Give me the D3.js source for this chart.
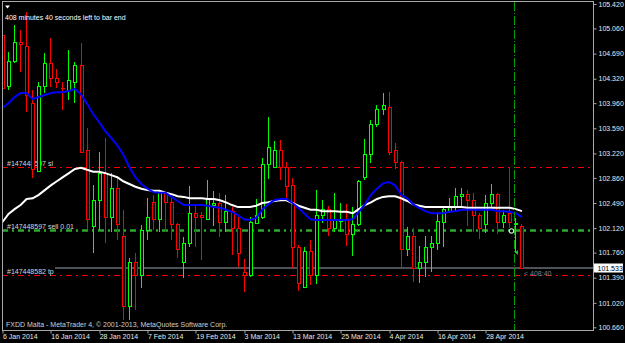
<!DOCTYPE html>
<html>
<head>
<meta charset="utf-8">
<script src="https://cdn.jsdelivr.net/npm/d3@7"></script>
<style>
  html, body { margin: 0; padding: 0; background: #000; }
  svg { display: block; }
  text { font-family: "Liberation Sans", Arial, sans-serif; font-size: 7px; }
</style>
</head>
<body>
<svg id="chart" width="625" height="343"></svg>
<script>
// daily bars, 6 Jan 2014 .. 6 May 2014 (bar index 0..86)
const opens = [
  104.96, 104.20, 104.57, 104.85, 104.80, 103.96, 102.96, 104.20, 104.55, 104.33,
  104.18, 104.15, 104.27, 104.51, 103.26, 102.14, 102.53, 102.93, 102.28, 102.71,
  101.99, 100.96, 101.62, 101.43, 102.09, 102.50, 102.24, 102.64, 102.50, 102.17,
  101.62, 101.90, 102.34, 102.30, 102.25, 102.46, 102.49, 102.21, 102.36, 102.12,
  101.47, 101.43, 102.19, 102.28, 103.05, 103.02, 103.26, 103.02, 102.75, 101.83,
  101.25, 101.77, 101.43, 102.31, 102.39, 102.12, 102.22, 102.24, 102.02, 102.17,
  102.86, 103.21, 103.64, 103.87, 103.90, 103.26, 103.08, 101.81, 101.99, 101.53,
  101.61, 101.84, 101.90, 102.21, 102.37, 102.42, 102.59, 102.61, 102.53, 102.30,
  102.18, 102.49, 102.62, 102.21, 102.33, 102.17, 102.14
];
const highs = [
  105.04, 104.71, 105.11, 105.04, 105.30, 104.15, 104.27, 104.70, 104.92, 104.46,
  104.27, 104.74, 104.57, 104.85, 103.59, 102.75, 103.24, 103.45, 102.93, 102.87,
  102.39, 101.68, 101.75, 102.17, 102.56, 102.61, 102.68, 102.65, 102.56, 102.19,
  101.99, 102.74, 102.46, 102.36, 102.83, 102.67, 102.64, 102.61, 102.43, 102.28,
  101.66, 102.28, 102.55, 103.15, 103.76, 103.40, 103.42, 103.09, 102.86, 101.87,
  101.84, 101.95, 102.68, 102.53, 102.45, 102.64, 102.49, 102.47, 102.43, 102.83,
  103.43, 103.71, 103.93, 104.11, 104.12, 103.37, 103.11, 102.14, 102.12, 101.86,
  102.00, 102.00, 102.36, 102.43, 102.56, 102.71, 102.71, 102.68, 102.64, 102.34,
  102.61, 102.77, 102.64, 102.39, 103.02, 102.27, 102.18
];
const lows = [
  104.01, 104.15, 104.55, 104.42, 103.83, 102.86, 102.95, 104.11, 104.20, 104.18,
  103.86, 104.01, 103.96, 103.23, 102.09, 101.75, 102.09, 101.90, 102.06, 101.95,
  100.77, 100.77, 100.91, 101.24, 101.95, 102.09, 102.06, 102.06, 101.95, 101.68,
  101.39, 101.84, 101.84, 101.65, 102.24, 102.15, 101.99, 102.06, 101.72, 101.55,
  101.18, 101.40, 102.18, 102.25, 102.84, 103.01, 102.83, 102.53, 101.53, 101.19,
  101.24, 101.28, 101.30, 102.19, 102.00, 102.06, 102.06, 101.86, 101.71, 102.15,
  102.83, 103.08, 103.61, 103.79, 103.20, 102.99, 101.55, 101.71, 101.33, 101.31,
  101.40, 101.47, 101.80, 101.84, 102.34, 102.36, 102.42, 102.15, 102.06, 101.96,
  102.05, 102.43, 102.03, 102.12, 102.12, 101.75, 101.53
];
const closes = [
  104.18, 104.58, 104.85, 104.82, 104.07, 102.98, 104.20, 104.55, 104.33, 104.26,
  104.17, 104.29, 104.51, 103.24, 102.24, 102.53, 102.93, 102.28, 102.71, 102.17,
  100.96, 101.62, 101.43, 102.09, 102.27, 102.24, 102.64, 102.50, 102.17, 101.80,
  101.90, 102.34, 102.28, 102.27, 102.56, 102.49, 102.21, 102.36, 102.11, 101.75,
  101.43, 102.21, 102.30, 103.06, 103.30, 103.26, 103.02, 102.74, 101.83, 101.30,
  101.77, 101.43, 102.31, 102.39, 102.12, 102.24, 102.25, 102.03, 102.17, 102.80,
  103.21, 103.64, 103.87, 103.92, 103.24, 103.09, 101.80, 101.99, 101.53, 101.62,
  101.84, 101.90, 102.22, 102.39, 102.43, 102.59, 102.61, 102.52, 102.30, 102.12,
  102.49, 102.62, 102.21, 102.31, 102.21, 102.19, 101.533
];

// moving averages (blue = fast, white = slow)
const maFast = [
  103.89, 103.96, 104.05, 104.11, 104.11, 104.02, 104.05, 104.08, 104.11, 104.12,
  104.12, 104.14, 104.17, 104.09, 103.95, 103.80, 103.68, 103.55, 103.45, 103.34,
  103.20, 103.02, 102.87, 102.77, 102.70, 102.65, 102.64, 102.64, 102.58, 102.52,
  102.46, 102.46, 102.46, 102.46, 102.45, 102.43, 102.42, 102.39, 102.36, 102.31,
  102.25, 102.24, 102.27, 102.39, 102.47, 102.53, 102.55, 102.55, 102.49, 102.42,
  102.33, 102.25, 102.24, 102.24, 102.24, 102.24, 102.24, 102.24, 102.25, 102.36,
  102.47, 102.61, 102.70, 102.78, 102.80, 102.75, 102.61, 102.56, 102.47, 102.42,
  102.37, 102.34, 102.34, 102.34, 102.36, 102.37, 102.39, 102.39, 102.39, 102.39,
  102.39, 102.39, 102.37, 102.37, 102.36, 102.34, 102.28
];
const maSlow = [
  102.21, 102.33, 102.40, 102.46, 102.55, 102.56, 102.61, 102.68, 102.75, 102.81,
  102.87, 102.93, 102.99, 103.01, 102.98, 102.95, 102.95, 102.93, 102.90, 102.87,
  102.81, 102.77, 102.73, 102.70, 102.68, 102.67, 102.67, 102.64, 102.62, 102.59,
  102.58, 102.56, 102.56, 102.56, 102.55, 102.55, 102.53, 102.50, 102.46, 102.43,
  102.43, 102.43, 102.45, 102.49, 102.50, 102.52, 102.53, 102.53, 102.49, 102.45,
  102.42, 102.39, 102.39, 102.37, 102.37, 102.37, 102.36, 102.36, 102.34, 102.40,
  102.46, 102.50, 102.55, 102.58, 102.59, 102.59, 102.56, 102.52, 102.47, 102.45,
  102.43, 102.43, 102.43, 102.43, 102.43, 102.43, 102.43, 102.42, 102.42, 102.42,
  102.42, 102.42, 102.42, 102.42, 102.42, 102.40, 102.37
];

const dateTickBars = [0, 8, 16, 24, 32, 40, 48, 56, 64, 72, 80];
const dateTickLabels = ["6 Jan 2014", "16 Jan 2014", "28 Jan 2014", "7 Feb 2014", "19 Feb 2014",
  "3 Mar 2014", "13 Mar 2014", "25 Mar 2014", "4 Apr 2014", "16 Apr 2014", "28 Apr 2014"];
const priceTicks = [105.420, 105.060, 104.690, 104.320, 103.960, 103.590, 103.220,
  102.860, 102.490, 102.120, 101.760, 101.390, 101.020, 100.660];

// order levels
const levelNames = ["#147448597 sl", "#147448597 sell 0.01", "#147448582 tp"];
const levelPrices = [103.016, 102.086, 101.43];
const bidPrice = 101.533;
const timerText = "408 minutes 40 seconds left to bar end";
const countdownText = "< 408:40";
const orderBar = 85;
const copyright = "FXDD Malta - MetaTrader 4, \u00a9 2001-2013, MetaQuotes Software Corp.";

const svg = d3.select("#chart");
const pL = 2, pR = 593, pT = 2, pB = 330;

const x = d3.scaleLinear().domain([0, 86]).range([2.5, 2.5 + 6.04 * 86]);
const y = d3.scaleLinear().domain([100.66, 105.42]).range([327.3, 4]);

svg.append("rect").attr("width", 625).attr("height", 343).attr("fill", "#000");

svg.append("clipPath").attr("id", "plot")
  .append("rect").attr("x", pL + 1).attr("y", pT).attr("width", pR - pL - 1).attr("height", pB - pT);

const plot = svg.append("g").attr("clip-path", "url(#plot)");

// sl / sell / tp lines with labels
const levelColors = ["#ff0000", "#2fa82f", "#ff0000"];
const levelWidths = [1, 2.5, 1];
levelPrices.forEach((p, k) => {
  const yy = Math.round(y(p)) + 0.5;
  plot.append("line")
    .attr("x1", pL).attr("x2", pR).attr("y1", yy).attr("y2", yy)
    .attr("stroke", levelColors[k]).attr("stroke-width", levelWidths[k])
    .attr("stroke-dasharray", "6,4,2,4");
});

// bid line
const yb = y(bidPrice);
plot.append("line")
  .attr("x1", 55).attr("x2", pR).attr("y1", yb).attr("y2", yb)
  .attr("stroke", "#4c5258").attr("stroke-width", 2);

levelPrices.forEach((p, k) => {
  plot.append("text")
    .attr("x", 7).attr("y", y(p) - 1.5)
    .attr("fill", "#d8d8d8")
    .text(levelNames[k]);
});

// candles
const bars = d3.range(opens.length).map(i => ({
  i: i, o: opens[i], h: highs[i], l: lows[i], c: closes[i]
}));

const candle = plot.append("g").attr("shape-rendering", "crispEdges")
  .selectAll("g").data(bars).join("g");

candle.append("line")
  .attr("x1", d => Math.floor(x(d.i)) + 0.5)
  .attr("x2", d => Math.floor(x(d.i)) + 0.5)
  .attr("y1", d => y(d.h))
  .attr("y2", d => y(d.l))
  .attr("stroke", d => d.c >= d.o ? "#00ff00" : "#ff0000");

candle.append("rect")
  .attr("x", d => Math.floor(x(d.i)) - 0.5)
  .attr("width", 3)
  .attr("y", d => y(Math.max(d.o, d.c)))
  .attr("height", d => Math.max(0.5, Math.abs(y(d.o) - y(d.c))))
  .attr("fill", "#000")
  .attr("stroke", d => d.c >= d.o ? "#00ff00" : "#ff0000");

// moving averages
const maLine = d3.line().x((d, i) => x(i)).y(d => y(d));
plot.append("path").datum(maSlow)
  .attr("d", maLine).attr("fill", "none").attr("stroke", "#ffffff").attr("stroke-width", 2);
plot.append("path").datum(maFast)
  .attr("d", maLine).attr("fill", "none").attr("stroke", "#0000ff").attr("stroke-width", 2);

// vertical line at the order bar
const xo = Math.floor(x(orderBar)) - 0.5;
plot.append("line")
  .attr("x1", xo).attr("x2", xo).attr("y1", pT).attr("y2", pB)
  .attr("stroke", "#00a000").attr("stroke-width", 1)
  .attr("stroke-dasharray", "9,2,1,2");

// order marks
plot.append("circle")
  .attr("cx", xo - 3).attr("cy", y(levelPrices[1]) + 0.5).attr("r", 2.2)
  .attr("fill", "none").attr("stroke", "#d0e8d0").attr("stroke-width", 1.2);
plot.append("path")
  .attr("d", `M${xo + 0.5},${y(101.76)} l3,-2.5 v5 z`)
  .attr("fill", "#22cc22");

// countdown next to the bid
svg.append("text")
  .attr("x", 524).attr("y", yb + 8)
  .attr("fill", "#808080")
  .text(countdownText);

// top-left info
svg.append("path").attr("d", "M5,5.5 h5 l-2.5,3 z").attr("fill", "#fff");
svg.append("text").attr("x", 5).attr("y", 19.5).attr("fill", "#fff").text(timerText);
svg.append("text").attr("x", 6).attr("y", 326.5).attr("fill", "#d0d0d0").text(copyright);

// frame
const frame = svg.append("g").attr("stroke", "#a8a8a8").attr("shape-rendering", "crispEdges");
frame.append("line").attr("x1", pL).attr("x2", pR + 1).attr("y1", 1.5).attr("y2", 1.5);
frame.append("line").attr("x1", 2.5).attr("x2", 2.5).attr("y1", 1.5).attr("y2", pB);
frame.append("line").attr("x1", pL).attr("x2", pR + 1).attr("y1", pB + 0.5).attr("y2", pB + 0.5);
frame.append("line").attr("x1", pR + 0.5).attr("x2", pR + 0.5).attr("y1", 1.5).attr("y2", pB + 1);

// price axis
const yAxis = svg.append("g")
  .attr("transform", `translate(${pR + 0.5},0)`)
  .call(d3.axisRight(y).tickValues(priceTicks).tickSize(3).tickPadding(2).tickFormat(d3.format(".3f")));
yAxis.select(".domain").remove();
yAxis.selectAll("line").attr("stroke", "#a8a8a8");
yAxis.selectAll("text").attr("fill", "#e8e8e8").style("font-size", "7px")
  .style("font-family", "'Liberation Sans', Arial, sans-serif");

// date axis
const xAxis = svg.append("g")
  .attr("transform", `translate(0,${pB + 0.5})`)
  .call(d3.axisBottom(x).tickValues(dateTickBars).tickSize(3).tickPadding(1)
    .tickFormat((d, k) => dateTickLabels[k]));
xAxis.select(".domain").remove();
xAxis.selectAll("line").attr("stroke", "#a8a8a8")
  .attr("transform", d => `translate(${Math.floor(x(d)) - x(d) + 0.5},0)`);
xAxis.selectAll("text").attr("fill", "#e8e8e8").attr("text-anchor", "start")
  .style("font-size", "7px").style("font-family", "'Liberation Sans', Arial, sans-serif");

// bid price box
svg.append("rect")
  .attr("x", 594).attr("y", yb - 4.5).attr("width", 29).attr("height", 9)
  .attr("fill", "#fff");
svg.append("text")
  .attr("x", 597.5).attr("y", yb + 2.5).attr("fill", "#000")
  .text(d3.format(".3f")(bidPrice));
</script>
</body>
</html>
